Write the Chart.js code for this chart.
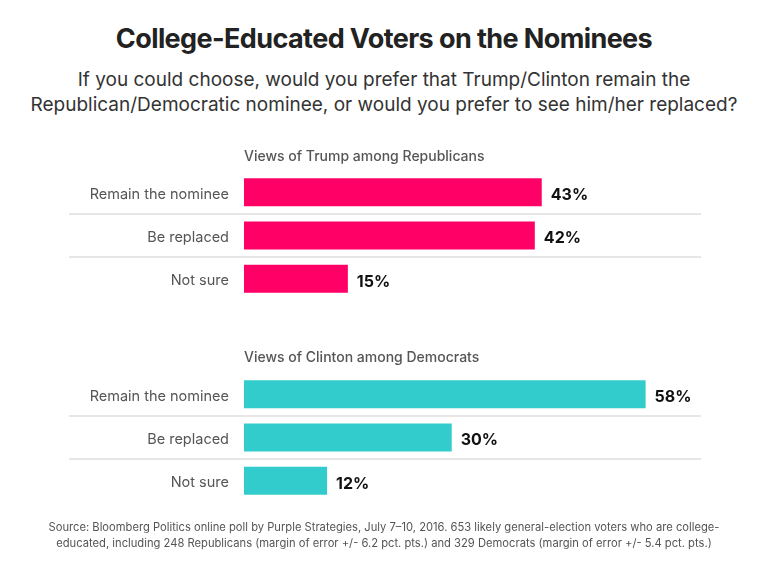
<!DOCTYPE html>
<html>
<head>
    <meta charset="UTF-8">
    <title>College-Educated Voters on the Nominees</title>
    <script src="https://cdn.jsdelivr.net/npm/chart.js"></script>
    <style>
        body { margin: 0; width: 768px; height: 573px; position: relative; background: #fff; font-family: 'Inter', 'Liberation Sans', sans-serif; overflow: hidden; }
        .title { position: absolute; top: 22px; left: 0; width: 768px; text-align: center; font-size: 27px; font-weight: 700; color: #222; letter-spacing: -0.6px; }
        .subtitle { position: absolute; top: 67px; left: 0; width: 768px; text-align: center; font-size: 19px; line-height: 25px; color: #333; }
        .group { position: absolute; left: 244px; font-size: 14px; font-weight: 500; color: #555; z-index: 2; }
        .source { position: absolute; top: 519px; left: 0; width: 768px; text-align: center; font-size: 11.2px; line-height: 16px; color: #555; }
        .box { position: absolute; left: 0; width: 768px; height: 177px; }
    </style>
</head>
<body>

<div class="title">College-Educated Voters on the Nominees</div>
<div class="subtitle">If you could choose, would you prefer that Trump/Clinton remain the<br>Republican/Democratic nominee, or would you prefer to see him/her replaced?</div>
<div class="box" style="top:147px"><canvas id="trumpChart"></canvas></div>
<div class="box" style="top:349px"><canvas id="clintonChart"></canvas></div>
<div class="group" style="top:147px">Views of Trump among Republicans</div>
<div class="group" style="top:348px">Views of Clinton among Democrats</div>
<div class="source">Source: Bloomberg Politics online poll by Purple Strategies, July 7–10, 2016. 653 likely general-election voters who are college-<br>educated, including 248 Republicans (margin of error +/- 6.2 pct. pts.) and 329 Democrats (margin of error +/- 5.4 pct. pts.)</div>

<script>
    // Данные
    var categories = ['Remain the nominee', 'Be replaced', 'Not sure'];
    var trumpValues = [43, 42, 15];
    var clintonValues = [58, 30, 12];

    // Подписи значений и разделители между строками
    var rowPlugin = {
        id: 'rows',
        beforeDatasetsDraw: function (chart) {
            var ctx = chart.ctx;
            var y = chart.scales.y;
            ctx.save();
            ctx.strokeStyle = '#e6e6e6';
            ctx.lineWidth = 2;
            for (var i = 0; i < categories.length - 1; i++) {
                var yy = (y.getPixelForValue(i) + y.getPixelForValue(i + 1)) / 2;
                ctx.beginPath();
                ctx.moveTo(69, yy);
                ctx.lineTo(chart.chartArea.right, yy);
                ctx.stroke();
            }
            ctx.restore();
        },
        afterDatasetsDraw: function (chart) {
            var ctx = chart.ctx;
            var meta = chart.getDatasetMeta(0);
            var data = chart.data.datasets[0].data;
            ctx.save();
            ctx.font = '700 16px Inter, "Liberation Sans", sans-serif';
            ctx.fillStyle = '#111';
            ctx.textBaseline = 'middle';
            meta.data.forEach(function (bar, i) {
                ctx.fillText(data[i] + '%', bar.x + 9, bar.y + 3);
            });
            ctx.restore();
        }
    };

    function makeChart(id, values, color) {
        return new Chart(id, {
            type: 'bar',
            data: {
                labels: categories,
                datasets: [{
                    data: values,
                    backgroundColor: color,
                    categoryPercentage: 1,
                    barPercentage: 0.65
                }]
            },
            options: {
                indexAxis: 'y',
                responsive: true,
                maintainAspectRatio: false,
                animation: false,
                layout: { padding: { top: 0, bottom: 0, left: 0, right: 67 } },
                plugins: { legend: { display: false }, tooltip: { enabled: false } },
                scales: {
                    x: { display: false, min: 0, max: 66 },
                    y: {
                        grid: { display: false, drawTicks: false },
                        border: { display: false },
                        afterFit: function (scale) { scale.width = 244; },
                        ticks: {
                            padding: 15,
                            labelOffset: 2,
                            color: '#555',
                            font: { family: 'Inter, "Liberation Sans", sans-serif', size: 14.5 }
                        }
                    }
                }
            },
            plugins: [rowPlugin]
        });
    }

    makeChart('trumpChart', trumpValues, '#ff0066');
    makeChart('clintonChart', clintonValues, '#33cccc');
</script>

</body>
</html>
